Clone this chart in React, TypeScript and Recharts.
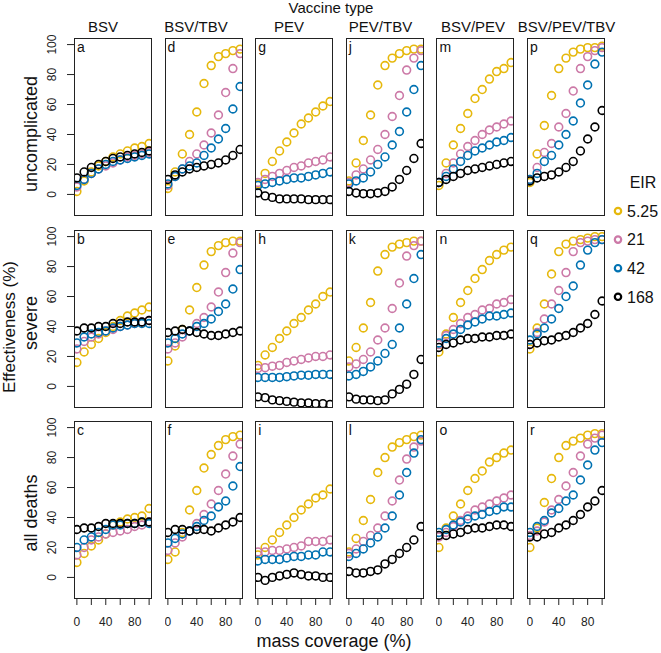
import React from "react";
import { ScatterChart, Scatter, XAxis, YAxis } from "recharts";

const coverage = [0, 10, 20, 30, 40, 50, 60, 70, 80, 90, 100];
const eirLevels = ["5.25", "21", "42", "168"];
const eirColors = ["#E6B80C", "#CC79A7", "#0072B2", "#000000"];
const vaccineTypes = ["BSV", "BSV/TBV", "PEV", "PEV/TBV", "BSV/PEV", "BSV/PEV/TBV"];
const outcomes = ["uncomplicated", "severe", "all deaths"];
const panelLetters = [
  ["a", "b", "c"],
  ["d", "e", "f"],
  ["g", "h", "i"],
  ["j", "k", "l"],
  ["m", "n", "o"],
  ["p", "q", "r"],
];
const yTicks = [0, 20, 40, 60, 80, 100];
const xTicks = [0, 20, 40, 60, 80, 100];
const xLabelled = [0, 40, 80];

// effectiveness (%) per EIR (rows: 5.25, 21, 42, 168) at each coverage
const uncBSV = [
  [2, 9, 15, 19, 22, 25, 27, 29, 31, 32, 34],
  [5, 10, 14, 17, 19, 21, 23, 25, 26, 27, 28],
  [6, 10, 14, 17, 20, 22, 23, 24, 25, 26, 27],
  [11, 15, 18, 20, 22, 24, 25, 26, 27, 28, 29],
];
const uncBSVTBV = [
  [4, 15, 27, 40, 55, 74, 86, 92, 94, 96, 97],
  [6, 12, 17, 22, 27, 33, 41, 53, 68, 84, 94],
  [7, 12, 17, 19, 21, 26, 31, 37, 44, 57, 72],
  [10, 13, 15, 17, 18, 19, 20, 21, 23, 26, 30],
];
const uncPEV = [
  [7, 14, 22, 29, 35, 41, 47, 51, 55, 59, 62],
  [8, 10, 12, 14, 16, 18, 19, 21, 22, 23, 25],
  [6, 7, 8, 9, 10, 11, 11, 12, 13, 14, 15],
  [1, -1, -2, -3, -3, -3, -3, -3.5, -3.5, -3.5, -3.5],
];
const uncPEVTBV = [
  [9, 21, 36, 53, 73, 86, 91, 94, 96, 97, 97],
  [8, 13, 17, 23, 30, 40, 52, 66, 83, 91, 96],
  [7, 9, 11, 15, 20, 25, 33, 42, 55, 70, 86],
  [2, 1, 0.5, 0.5, 1, 2, 5, 10, 16, 24, 34],
];
const uncBSVPEV = [
  [6, 21, 33, 44, 54, 64, 70, 77, 82, 84, 88],
  [8, 14, 21, 27, 32, 36, 40, 43, 45, 47, 49],
  [8, 12, 17, 22, 26, 29, 31, 33, 35, 36, 38],
  [8, 10, 12, 14, 16, 17, 18, 19, 20, 21, 22],
];
const uncBSVPEVTBV = [
  [8, 27, 46, 66, 84, 91, 95, 97, 98, 98, 99],
  [10, 18, 28, 34, 45, 54, 69, 84, 92, 96, 98],
  [10, 14, 22, 26, 33, 40, 49, 61, 73, 87, 95],
  [9, 11, 12, 13, 15, 18, 22, 29, 37, 45, 56],
];
const sevBSV = [
  [16, 23, 28, 32, 36, 40, 44, 47, 49, 51, 53],
  [25, 30, 33, 35, 37, 38, 40, 41, 42, 43, 44],
  [29, 33, 35, 36, 37, 39, 40, 41, 42, 42, 42],
  [37, 39, 39, 40, 40, 42, 42, 43, 43, 43, 44],
];
const sevBSVTBV = [
  [17, 27, 38, 51, 66, 81, 90, 94, 96, 97, 97],
  [25, 29, 33, 37, 42, 46, 53, 63, 76, 89, 96],
  [29, 32, 35, 37, 40, 42, 45, 50, 55, 65, 78],
  [36, 37, 38, 37, 36, 35, 34, 34, 35, 36, 37],
];
const sevPEV = [
  [14, 21, 26, 32, 37, 42, 46, 51, 55, 60, 63],
  [12, 12.5, 13.5, 14, 16, 17, 18, 19, 20, 20, 21],
  [6, 6, 6, 6, 6.5, 7, 7.5, 7.5, 8, 8, 8],
  [-7, -7.5, -9, -9.5, -10, -10.5, -11, -11, -11.5, -11.5, -12],
];
const sevPEVTBV = [
  [17, 26, 39, 56, 77, 88, 93, 95, 96, 97, 97],
  [13, 15, 18, 23, 31, 39, 52, 69, 87, 94, 97],
  [7, 8, 10, 13, 17, 22, 28, 39, 55, 72, 88],
  [-7, -8.5, -9, -9, -9.5, -9, -5, -2, 1.5, 8, 18],
];
const sevBSVPEV = [
  [23, 35, 46, 56, 64, 72, 78, 84, 88, 91, 93],
  [28, 34, 38, 42, 46, 48, 51, 52, 55, 56, 58],
  [29, 32, 35, 38, 41, 43, 45, 47, 47, 48, 49],
  [26, 28, 29, 31, 32, 32, 33, 33, 34, 34, 35],
];
const sevBSVPEVTBV = [
  [25, 39, 55, 75, 90, 95, 97, 98, 99, 100, 100],
  [28, 36, 45, 55, 64, 76, 90, 96, 97, 98, 98],
  [31, 35, 39, 45, 52, 60, 67, 81, 91, 96, 98],
  [28, 29, 30.5, 31, 33, 34, 36, 39, 42, 48, 57],
];
const allBSV = [
  [10, 16, 21, 25, 29, 35, 37, 39, 40, 41, 46],
  [15, 20, 25, 27, 29, 30, 31, 32, 34, 35, 37],
  [20, 25, 27, 30, 32, 35, 35, 36, 36, 37, 36],
  [32, 33, 33, 34, 36, 36, 36, 36, 36, 37, 37],
];
const allBSVTBV = [
  [12, 17, 30, 45, 58, 73, 82, 88, 92, 94, 95],
  [18, 23, 27, 31, 36, 42, 49, 58, 69, 81, 89],
  [23, 26, 29, 31, 34, 38, 41, 47, 51, 61, 74],
  [30, 32, 32, 31, 32, 32, 31, 33, 35, 37, 40],
];
const allPEV = [
  [15, 20, 25, 30, 35, 40, 45, 49, 53, 55, 59],
  [17, 17, 18, 18, 19, 20, 21, 24, 24, 24, 25],
  [11, 12, 12, 12, 13, 14, 14, 15, 15, 17, 17],
  [0, -2, 0, 1, 2, 3, 2, 1, 1, 0, 0],
];
const allPEVTBV = [
  [17, 26, 38, 52, 70, 80, 87, 90, 92, 94, 95],
  [16, 19, 24, 28, 33, 41, 51, 65, 79, 87, 91],
  [14, 16, 19, 23, 27, 33, 41, 55, 70, 83, 92],
  [4, 3, 3, 4, 5, 9, 12, 16, 20, 25, 34],
];
const allBSVPEV = [
  [20, 33, 41, 49, 58, 66, 71, 77, 80, 83, 85],
  [27, 30, 34, 38, 41, 45, 47, 49, 51, 53, 55],
  [30, 32, 35, 37, 39, 41, 42, 44, 45, 47, 47],
  [28, 28, 29, 30, 32, 33, 33, 34, 35, 35, 34],
];
const allBSVPEVTBV = [
  [20, 33, 50, 66, 80, 88, 91, 93, 95, 96, 96],
  [28, 31, 37, 45, 52, 61, 70, 81, 89, 93, 95],
  [30, 34, 38, 43, 46, 51, 55, 65, 75, 85, 90],
  [27, 27, 29, 30, 33, 35, 38, 42, 47, 51, 58],
];

// columns = vaccine type, rows = outcome
const panelValues = [
  [uncBSV, sevBSV, allBSV],
  [uncBSVTBV, sevBSVTBV, allBSVTBV],
  [uncPEV, sevPEV, allPEV],
  [uncPEVTBV, sevPEVTBV, allPEVTBV],
  [uncBSVPEV, sevBSVPEV, allBSVPEV],
  [uncBSVPEVTBV, sevBSVPEVTBV, allBSVPEVTBV],
];

const FONT = "'Liberation Sans', Arial, Helvetica, sans-serif";
const PW = 78;
const PH = 178;
const LEFT0 = 74;
const COL_STEP = 90.6;
const TOP0 = 38.3;
const ROW_STEP = 191.2;
const PAD_TOP = 12;
const titleX = [103, 196, 289, 380.5, 473, 566.5];
const rowLabelY = [134, 323, 513];

const ring = (color: string) => (props: any) =>
  props.cx == null ? <g /> : (
    <circle cx={props.cx} cy={props.cy} r={3.9} fill="none" stroke={color} strokeWidth={1.6} />
  );

const yTick = (props: any) => {
  const x = props.x - 8.7;
  return (
    <text x={x} y={props.y} transform={`rotate(-90 ${x} ${props.y})`} textAnchor="middle" fontSize={12} fontFamily={FONT} fill="#222">
      {props.payload.value}
    </text>
  );
};

const xTick = (props: any) =>
  xLabelled.includes(props.payload.value) ? (
    <text x={props.x} y={props.y + 19} textAnchor="middle" fontSize={12} fontFamily={FONT} fill="#222">
      {props.payload.value}
    </text>
  ) : (
    <g />
  );

function Panel({ col, row }: { col: number; row: number }) {
  const showY = col === 0;
  const showX = row === 2;
  const yw = showY ? 30 : 0;
  const xh = showX ? 30 : 0;
  const left = LEFT0 + col * COL_STEP;
  const top = TOP0 + row * ROW_STEP;
  const values = panelValues[col][row];
  return (
    <>
      <div style={{ position: "absolute", left: left - yw, top: top - PAD_TOP }}>
        <ScatterChart width={PW + yw} height={PH + xh + PAD_TOP} margin={{ top: PAD_TOP, right: 0, bottom: 0, left: 0 }}>
          <XAxis
            type="number"
            dataKey="x"
            domain={[-4, 104]}
            allowDataOverflow
            hide={!showX}
            ticks={xTicks}
            interval={0}
            height={xh || 1}
            tickSize={6}
            axisLine={false}
            stroke="#222"
            tick={xTick}
          />
          <YAxis
            type="number"
            dataKey="y"
            domain={[-14.4, 104.4]}
            allowDataOverflow
            hide={!showY}
            ticks={yTicks}
            interval={0}
            width={yw || 1}
            tickSize={7}
            axisLine={false}
            stroke="#222"
            tick={yTick}
          />
          {values.map((series, s) => (
            <Scatter
              key={eirLevels[s]}
              name={eirLevels[s]}
              data={coverage.map((x, i) => ({ x, y: series[i] }))}
              shape={ring(eirColors[s])}
              isAnimationActive={false}
            />
          ))}
        </ScatterChart>
      </div>
      <div
        style={{
          position: "absolute",
          left,
          top,
          width: PW,
          height: PH,
          border: "1px solid #222",
          boxSizing: "border-box",
          pointerEvents: "none",
        }}
      />
      <div
        style={{
          position: "absolute",
          left: left + 3,
          top: top + 1,
          fontFamily: FONT,
          fontSize: 14,
          lineHeight: "16px",
          color: "#111",
        }}
      >
        {panelLetters[col][row]}
      </div>
    </>
  );
}

export default function App() {
  return (
    <div style={{ position: "absolute", left: 0, top: 0, width: 661, height: 653, background: "#fff", overflow: "hidden" }}>
      <svg width={661} height={653} style={{ position: "absolute", left: 0, top: 0 }} fontFamily={FONT} fill="#111">
        <text x={331} y={13} textAnchor="middle" fontSize={15}>Vaccine type</text>
        {vaccineTypes.map((v, i) => (
          <text key={v} x={titleX[i]} y={31.5} textAnchor="middle" fontSize={15}>{v}</text>
        ))}
        {outcomes.map((o, i) => (
          <text key={o} x={37} y={rowLabelY[i]} transform={`rotate(-90 37 ${rowLabelY[i]})`} textAnchor="middle" fontSize={18}>{o}</text>
        ))}
        <text x={15} y={327} transform="rotate(-90 15 327)" textAnchor="middle" fontSize={17}>Effectiveness (%)</text>
        <text x={334} y={647} textAnchor="middle" fontSize={18}>mass coverage (%)</text>
        <text x={643} y={188} textAnchor="middle" fontSize={16}>EIR</text>
        {eirLevels.map((e, i) => (
          <g key={e}>
            <circle cx={618} cy={211 + i * 28.6} r={3.2} fill="none" stroke={eirColors[i]} strokeWidth={2.2} />
            <text x={627} y={216.8 + i * 28.6} fontSize={16}>{e}</text>
          </g>
        ))}
      </svg>
      {panelValues.map((_, col) =>
        [0, 1, 2].map((row) => <Panel key={`${col}-${row}`} col={col} row={row} />)
      )}
    </div>
  );
}
